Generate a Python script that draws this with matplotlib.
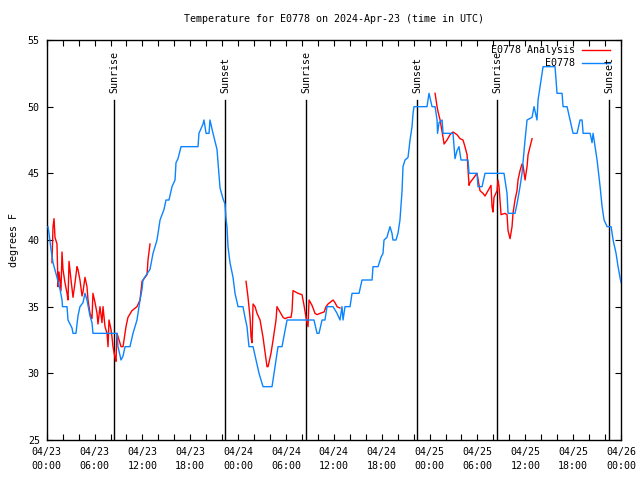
import matplotlib
matplotlib.use('Agg')
import matplotlib.pyplot as plt

# hours since 2024-04-23 00:00 UTC
obs_h = [0.16, 0.29, 0.54, 0.79, 1.29, 1.67, 1.92, 1.98, 2.55, 2.67, 3.17, 3.30, 3.67, 3.92,
         4.17, 4.55, 4.80, 5.05, 5.43, 5.68, 5.80, 8.82, 8.94, 9.32, 9.57, 9.82, 10.44, 10.82,
         11.32, 11.70, 11.95, 12.07, 12.95, 13.33, 13.83, 14.21, 14.71, 14.96, 15.33, 15.71,
         16.09, 16.21, 16.46, 16.84, 18.97, 19.09, 19.60, 19.72, 19.98, 20.35, 20.47, 20.85,
         21.35, 21.48, 21.73, 22.10, 22.35, 22.48, 22.60, 22.73, 22.98, 23.36, 23.61, 23.99,
         24.61, 24.86, 25.11, 25.36, 25.87, 26.24, 26.62, 27.12, 28.25, 28.50, 28.87, 29.00,
         29.50, 29.88, 30.13, 33.51, 33.89, 34.14, 34.52, 34.89, 35.14, 35.90, 36.40, 36.77,
         37.02, 37.15, 37.40, 38.03, 38.28, 39.16, 39.53, 40.79, 40.91, 41.54, 41.91, 42.16,
         42.29, 42.66, 42.79, 43.04, 43.29, 43.41, 43.79, 44.04, 44.29, 44.55, 44.67, 44.92,
         45.30, 45.55, 45.80, 45.93, 46.05, 47.68, 47.93, 48.31, 48.69, 48.94, 49.00, 49.19,
         49.57, 49.69, 50.94, 51.19, 51.44, 51.69, 51.94, 52.82, 52.95, 53.95, 54.07, 54.58,
         54.95, 57.33, 57.71, 57.84, 58.71, 58.96, 59.34, 59.59, 59.97, 60.22, 60.85, 61.10,
         61.47, 61.60, 61.85, 62.23, 63.73, 63.98, 64.61, 64.74, 65.24, 65.61, 65.99, 66.49,
         66.87, 67.12, 67.25, 68.13, 68.37, 68.50, 68.75, 69.00, 69.38, 69.63, 69.88, 70.26,
         70.76, 71.01, 71.38, 71.63, 72.0]
obs_t = [41.0, 40.5, 39.3, 38.3, 37.2, 36.3, 35.5, 35, 35, 34, 33.4, 33, 33, 34.3,
         35, 35.3, 36.0, 35.5, 34.3, 33.8, 33, 33, 32, 31, 31.3, 32, 32, 33,
         34, 35.5, 36.3, 37, 37.8, 39, 40, 41.5, 42.3, 43, 43, 44,
         44.5, 45.8, 46.1, 47, 47, 48, 48.7, 49, 48, 48, 49, 48,
         46.8, 45.8, 43.9, 43.1, 42.7, 41.6, 41, 39.5, 38.3, 37.2, 36, 35,
         35, 34.2, 33.5, 32, 32, 31, 30, 29, 29, 30, 31.5, 32,
         32, 33.2, 34, 34, 33, 33, 34, 34, 35, 35, 34.5, 34,
         35, 34, 35, 35, 36, 36, 37, 37, 38, 38, 38.7, 39,
         40, 40.2, 40.5, 41, 40.5, 40, 40, 40.5, 41.5, 43.7, 45.5, 46,
         46.2, 47.5, 48.5, 49.5, 50, 50, 51, 50, 50, 49, 48, 48.8,
         49, 48, 48, 46.1, 46.7, 47, 46, 46, 45, 45, 44, 44,
         45, 45, 43.5, 42, 42, 42.7, 44, 45, 47.5, 49, 49.2, 50,
         49, 50.5, 51.5, 53, 53, 51, 51, 50, 50, 49, 48, 48,
         49, 49, 48, 48, 47.3, 48, 47, 46, 44, 42.5, 41.5, 41,
         41, 40, 39, 38, 36.8]

# analysis, three separate runs
ana1_h = [0.66, 0.79, 0.92, 1.04, 1.29, 1.42, 1.54, 1.79, 1.92, 2.04, 2.29, 2.55, 2.67, 2.80,
          3.05, 3.30, 3.55, 3.80, 3.92, 4.17, 4.43, 4.55, 4.80, 5.05, 5.18, 5.43, 5.68, 5.80,
          6.06, 6.31, 6.43, 6.68, 6.93, 7.06, 7.31, 7.56, 7.69, 7.81, 8.06, 8.19, 8.31, 8.56,
          8.69, 8.81, 9.07, 9.32, 9.57, 9.94, 10.19, 10.69, 11.32, 11.70, 11.95, 12.33, 12.58,
          12.70, 12.95]
ana1_t = [38.3, 41, 41.6, 40.2, 39.7, 36.5, 37.6, 36.2, 39.1, 37.8, 36.8, 36, 35.5, 38.4,
          37, 35.7, 36.8, 38, 37.8, 37, 35.8, 36.1, 37.2, 36.5, 35.5, 34.5, 34.1, 36,
          35.3, 34.5, 33.7, 35, 33.8, 35, 33.5, 33, 32, 34, 33.3, 32.7, 32, 31.2,
          30.9, 33, 32.5, 32, 32, 33.5, 34.2, 34.7, 35, 35.5, 36.9, 37.2, 37.4,
          38.5, 39.7]
ana2_h = [24.99, 25.24, 25.49, 25.62, 25.74, 25.87, 26.12, 26.37, 26.75, 27.12, 27.62, 27.75,
          28.12, 28.38, 28.75, 28.87, 29.25, 29.63, 29.88, 30.25, 30.63, 30.76, 30.88, 31.51,
          32.01, 32.26, 32.51, 32.76, 32.89, 33.26, 33.64, 33.89, 34.27, 34.77, 35.02, 35.27,
          35.90, 36.15, 36.40, 36.77]
ana2_t = [36.9, 35.7, 34.2, 32.7, 32.3, 35.2, 35, 34.5, 34, 32.7, 30.5, 30.5,
          31.5, 32.5, 34, 35, 34.6, 34.2, 34.1, 34.2, 34.2, 34.7, 36.2, 36,
          35.9, 35.1, 34.2, 33.5, 35.5, 35.1, 34.5, 34.4, 34.5, 34.6, 35, 35.2,
          35.5, 35.3, 35, 34.9]
ana3_h = [48.69, 48.94, 49.07, 49.32, 49.69, 49.82, 50.19, 50.57, 50.94, 51.44, 51.82, 52.19,
          52.44, 52.70, 52.95, 53.07, 53.45, 53.95, 54.32, 54.70, 54.95, 55.33, 55.70, 55.83,
          55.95, 56.08, 56.46, 56.58, 56.71, 56.96, 57.46, 57.71, 57.84, 58.09, 58.34, 58.46,
          58.71, 58.96, 59.09, 59.34, 59.59, 59.72, 59.97, 60.22, 60.35, 60.60, 60.85]
ana3_t = [51, 50, 49.6, 49, 47.7, 47.2, 47.5, 47.9, 48.1, 47.9, 47.6, 47.5,
          47, 46.4, 44.1, 44.3, 44.6, 45, 43.7, 43.5, 43.3, 43.7, 44.1, 42.5,
          42.1, 43.2, 43.7, 44.5, 44, 41.9, 42, 41.9, 40.7, 40.1, 41, 42,
          43, 43.7, 44.5, 45.2, 45.7, 45.6, 44.5, 45.5, 46.4, 47, 47.6]

sun_h = [8.48, 22.39, 32.55, 46.46, 56.50, 70.54]
sun_lbl = ['Sunrise', 'Sunset', 'Sunrise', 'Sunset', 'Sunrise', 'Sunset']

xtick_h = [0, 6, 12, 18, 24, 30, 36, 42, 48, 54, 60, 66, 72]
xtick_lbl = ['04/23\n00:00', '04/23\n06:00', '04/23\n12:00', '04/23\n18:00',
             '04/24\n00:00', '04/24\n06:00', '04/24\n12:00', '04/24\n18:00',
             '04/25\n00:00', '04/25\n06:00', '04/25\n12:00', '04/25\n18:00',
             '04/26\n00:00']
ytick_v = [25, 30, 35, 40, 45, 50, 55]

plt.rcParams['font.family'] = ['DejaVu Sans Mono']
fs = 7.2
red = '#ff0000'
blue = '#0a84ff'

fig = plt.figure(figsize=(6.4, 4.8), dpi=100)
ax = fig.add_axes([46.7 / 640, 40 / 480, 574.3 / 640, 400 / 480])

for h, lbl in zip(sun_h, sun_lbl):
    ax.plot([h, h], [25, 50.5], color='black', lw=1.0, zorder=1)
    ax.text(h, 51.0, lbl, rotation=90, ha='center', va='bottom', fontsize=fs)

for hh, tt in [(ana1_h, ana1_t), (ana2_h, ana2_t), (ana3_h, ana3_t)]:
    ax.plot(hh, tt, color=red, lw=1.0, zorder=2)
ax.plot(obs_h, obs_t, color=blue, lw=1.0, zorder=3)

ax.set_xlim(0, 72)
ax.set_ylim(25, 55)
ax.set_xticks(range(0, 73, 2), minor=True)
ax.set_xticks(xtick_h)
ax.set_xticklabels(xtick_lbl, fontsize=fs, linespacing=1.5)
ax.set_yticks(ytick_v)
ax.set_yticklabels([str(v) for v in ytick_v], fontsize=fs)
ax.tick_params(which='both', direction='in', top=True, right=True, length=4, width=0.8, pad=5)
for s in ax.spines.values():
    s.set_linewidth(1.0)

ax.set_ylabel('degrees F', fontsize=fs, labelpad=6)
fig.text(334 / 640, 1 - 19 / 480, 'Temperature for E0778 on 2024-Apr-23 (time in UTC)',
         ha='center', va='center', fontsize=fs)

# legend drawn by hand, gnuplot style
ax.text(0.920, 0.975, 'E0778 Analysis', transform=ax.transAxes, ha='right', va='center', fontsize=fs)
ax.text(0.920, 0.9425, 'E0778', transform=ax.transAxes, ha='right', va='center', fontsize=fs)
ax.plot([0.932, 0.981], [0.975, 0.975], transform=ax.transAxes, color=red, lw=1.0)
ax.plot([0.932, 0.981], [0.9425, 0.9425], transform=ax.transAxes, color=blue, lw=1.0)

fig.savefig('out.png', dpi=100)
